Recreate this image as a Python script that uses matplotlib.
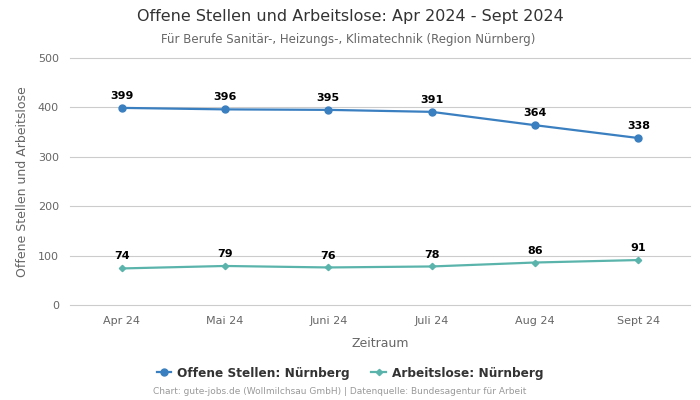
import matplotlib
matplotlib.use("Agg")
import matplotlib.pyplot as plt

months = ["Apr 24", "Mai 24", "Juni 24", "Juli 24", "Aug 24", "Sept 24"]
offene = [399, 396, 395, 391, 364, 338]
arbeitslose = [74, 79, 76, 78, 86, 91]
yticks = [0, 100, 200, 300, 400, 500]

blue = "#3a7fc0"
teal = "#5ab4ac"

fig = plt.figure(figsize=(7, 4), dpi=100)
ax = fig.add_axes([70/700, 1-305/400, 620/700, 247/400])
x = list(range(len(months)))
ax.plot(x, offene, color=blue, lw=1.6, marker="o", ms=5, label="Offene Stellen: Nürnberg", zorder=3)
ax.plot(x, arbeitslose, color=teal, lw=1.6, marker="D", ms=3.2, label="Arbeitslose: Nürnberg", zorder=3)
for xi, v in zip(x, offene):
    ax.annotate(str(v), (xi, v), xytext=(0, 5), textcoords="offset points", ha="center", va="bottom",
                fontsize=8, fontweight="bold", color="black")
for xi, v in zip(x, arbeitslose):
    ax.annotate(str(v), (xi, v), xytext=(0, 5), textcoords="offset points", ha="center", va="bottom",
                fontsize=8, fontweight="bold", color="black")

ax.set_xlim(-0.5, len(months) - 0.5)
ax.set_ylim(0, 500)
ax.set_yticks(yticks)
ax.set_xticks(x)
ax.set_xticklabels(months)
ax.grid(axis="y", color="#cccccc", lw=0.8)
for gl in ax.get_ygridlines():
    gl.set_clip_on(False)
ax.set_axisbelow(True)
for s in ax.spines.values():
    s.set_visible(False)
ax.tick_params(axis="both", length=0, labelsize=8, labelcolor="#666666", pad=8)
ax.set_xlabel("Zeitraum", fontsize=9, color="#666666", labelpad=8)
ax.set_ylabel("Offene Stellen und Arbeitslose", fontsize=9, color="#666666", labelpad=6)

fig.text(350/700, 1-17/400, "Offene Stellen und Arbeitslose: Apr 2024 - Sept 2024", ha="center", va="center",
         fontsize=11.5, color="#333333")
fig.text(348/700, 1-39/400, "Für Berufe Sanitär-, Heizungs-, Klimatechnik (Region Nürnberg)", ha="center", va="center",
         fontsize=8.5, color="#666666")
leg = fig.legend(loc="center", bbox_to_anchor=(350/700, 1-373/400), ncol=2, frameon=False,
                 prop={"size": 8.7, "weight": "bold"}, handlelength=1.2, handletextpad=0.5, columnspacing=1.8)
for t in leg.get_texts():
    t.set_color("#333333")
fig.text(340/700, 1-392/400, "Chart: gute-jobs.de (Wollmilchsau GmbH) | Datenquelle: Bundesagentur für Arbeit",
         ha="center", va="center", fontsize=6.5, color="#999999")
fig.savefig("out.png", dpi=100)
